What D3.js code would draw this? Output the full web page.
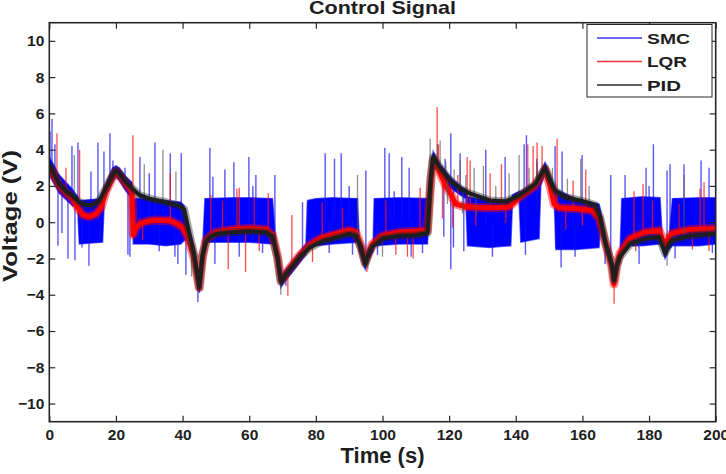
<!DOCTYPE html>
<html><head><meta charset="utf-8">
<script src="https://cdn.jsdelivr.net/npm/d3@7"></script>
<style>
body{margin:0;background:#fff}
svg{display:block}
text{font-family:"Liberation Sans",Arial,Helvetica,sans-serif;font-weight:bold;fill:#1e1e1e}
</style>
</head><body>
<svg id="chart" width="726" height="474"></svg>
<script>
// ---- tick labels ----
const xTicks = [0,20,40,60,80,100,120,140,160,180,200];
const yTicks = [-10,-8,-6,-4,-2,0,2,4,6,8,10];
const seriesNames = ["SMC","LQR","PID"];

// ---- PID (black) trend ----
const pidT = [0,1,3,5,7,9,11,13,15,17,19,20,21,23,25,27,30,35,39,40.5,42,43.5,45,46,47,48,50,55,60,65,67,68.5,69.5,70.5,72.3,75.3,78.2,81.3,86,90,92,93.5,94.8,96,97,100,105,110,113.5,114.5,115.2,117.3,120.3,123.3,126.3,132.3,137,141.3,145.8,148.8,150.3,151.8,154.8,159.3,163.8,165.3,167,168.8,169.5,170.3,171.3,174.3,178.8,183,184.8,186,187,192.3,200];
const pidV = [3.2,2.8,2.1,1.7,1.45,1.1,0.95,0.95,1.2,1.9,2.6,2.85,2.7,2.2,1.85,1.5,1.3,1.1,0.9,0.7,-0.6,-1.8,-3.6,-1.8,-1.1,-0.85,-0.65,-0.55,-0.5,-0.55,-0.8,-2.0,-3.3,-3.0,-2.6,-1.9,-1.4,-1.1,-0.85,-0.65,-0.75,-1.4,-2.3,-1.7,-1.35,-0.9,-0.75,-0.72,-0.6,2.5,3.6,3.0,2.3,1.85,1.58,1.2,1.15,1.5,2.1,3.0,2.3,1.75,1.38,1.2,0.95,0.3,-1.2,-2.3,-3.2,-2.4,-1.9,-1.2,-0.92,-0.83,-1.7,-1.2,-1.0,-0.75,-0.63];

// ---- LQR (red) trend ----
const lqrT = [0,1,3,5,7,8.5,10,12,14,15.5,17,19,20,21,23,24.8,25.2,26,27.5,30,33,36,38.5,40,41.5,43.5,45,46,47,48,50,55,60,65,67,68.5,69.5,70.5,72.3,75.3,78.2,81.3,86,90,92,93.5,94.8,96,97,100,105,110,113.5,114.5,115.2,117.3,119,120.3,122,125,130,135,138,141.3,145.8,148.8,150.3,151.5,153,158,163,165,167,168.8,169.5,170.3,171.3,174.3,178.8,183,184.8,186,187,192.3,200];
const lqrV = [3.0,2.7,2.0,1.6,1.3,0.8,0.4,0.3,0.45,0.8,1.7,2.5,2.8,2.6,2.1,1.7,-0.7,-0.3,-0.05,0.08,0.12,0.1,-0.1,-0.3,-0.8,-2.0,-3.6,-1.9,-1.0,-0.8,-0.55,-0.4,-0.35,-0.4,-0.7,-1.9,-3.2,-3.0,-2.5,-1.8,-1.25,-0.9,-0.65,-0.45,-0.55,-1.3,-2.2,-1.6,-1.2,-0.75,-0.55,-0.5,-0.45,2.3,3.4,2.7,2.0,1.6,1.0,0.85,0.8,0.8,0.85,1.4,2.0,2.9,2.0,1.0,0.8,0.75,0.65,0.2,-1.2,-2.4,-3.4,-2.4,-1.7,-0.9,-0.55,-0.45,-1.3,-0.8,-0.6,-0.4,-0.35];

// ---- SMC (blue) chattering envelope ----
const smcT  = [0,3,7,8.5,9,16,16.5,19,20,21,23,24.8,25.2,30,35,39.5,40.5,42,43.5,45,46,46.7,55,60,67,67.7,68.5,69.5,70.5,72.3,75.3,77,77.5,80,85,92.5,93,94.8,96,97.2,97.5,105,113.5,114.5,115.2,117.3,120.3,123.3,125,125.5,132,138.5,139,141,141.5,147,147.5,148.8,150.3,151.5,152,158,165,165.5,167,168.8,169.5,170.3,171.3,171.8,178,183.3,184,184.8,186,187,195,200];
const smcLo = [2.6,1.6,0.9,0.8,-1.2,-1.1,1.2,2.2,2.5,2.3,1.7,1.3,-1.2,-1.2,-1.3,-1.2,-1.0,-1.0,-2.2,-3.9,-2.0,-1.1,-1.1,-1.1,-1.2,-1.2,-2.3,-3.6,-3.3,-2.9,-2.2,-1.8,-1.3,-1.3,-1.2,-1.1,-1.6,-2.6,-2.0,-1.6,-1.3,-1.2,-1.2,2.2,3.2,2.6,1.9,1.5,1.3,-1.3,-1.4,-1.3,1.0,1.2,-1.1,-0.9,2.0,2.7,2.0,1.5,-1.5,-1.5,-1.4,0.1,-1.4,-2.6,-3.5,-2.7,-2.2,-1.3,-1.3,-1.2,-1.5,-2.0,-1.5,-1.3,-1.3,-1.2];
const smcHi = [3.6,2.6,1.8,1.4,1.2,1.3,1.9,3.0,3.1,3.0,2.5,2.2,1.3,1.3,1.2,1.1,0.9,-0.3,-1.4,-3.2,-1.5,1.3,1.35,1.35,1.3,-0.5,-1.7,-3.0,-2.7,-2.3,-1.6,-1.2,1.2,1.3,1.35,1.3,-0.9,-2.0,-1.4,-1.0,1.3,1.35,1.3,2.8,3.9,3.2,2.5,2.0,1.8,1.4,1.2,1.2,1.5,1.7,1.7,2.3,2.8,3.3,2.6,2.0,1.8,1.3,1.0,0.6,-0.9,-2.0,-2.9,-2.1,-1.6,1.3,1.4,1.35,-0.9,-1.4,-0.9,1.3,1.35,1.35];

// ---- spikes (time, extreme value) ----
const smcSpikeT = [0.2,0.8,1.7,2.6,3.8,5.6,6.8,7.7,8.6,9.8,11.9,12.5,14.6,15.2,16.4,18.2,19.1,22.7,23.6,24.2,27.2,30.0,31.7,33.0,36.3,37.7,38.6,39.6,41.0,44.6,48.2,49.1,49.7,52.7,55.4,57.0,59.9,61.1,62.0,64.0,67.7,71.0,76.0,77.5,82.8,84.0,85.6,87.6,90.0,91.0,95.0,98.5,100.7,102.0,103.5,105.8,108.0,108.6,112.0,118.4,118.8,120.5,120.5,121.3,123.3,124.4,131.0,133.0,136.8,142.5,143.2,142.9,146.3,149.4,151.8,152.1,153.6,153.9,157.8,159.9,166.8,168.5,172.8,177.0,179.1,180.0,181.3,185.4,186.3,187.8,190.5,195.6,198.0,199.0];
const smcSpikeV = [5.0,5.7,4.3,-1.3,-0.6,-2.0,4.2,-2.1,4.4,-1.4,-2.4,2.8,4.4,-1.0,3.9,4.9,3.4,3.0,-1.8,-1.9,3.6,2.7,4.4,-1.6,3.8,-1.9,-2.3,3.8,-2.9,-4.4,4.1,2.5,-2.3,2.9,3.3,-1.9,3.6,2.0,2.6,-1.7,2.6,-3.5,1.1,1.1,3.8,-1.7,3.5,3.8,2.0,-1.8,2.85,-1.8,4.1,3.8,1.7,3.6,3.0,-1.9,-1.7,-0.8,3.5,4.9,-2.6,-1.4,3.8,-1.6,4.0,-1.9,3.6,4.3,4.8,-1.8,3.5,2.9,4.2,-1.4,-2.5,3.9,-1.9,3.7,-2.3,2.6,2.6,-2.3,3.0,2.0,4.3,2.85,3.2,-2.0,3.2,3.4,3.0,-1.7];
const lqrSpikeT = [2.3,5.0,9.1,25.1,28.0,36.3,48.5,52.0,53.7,56.3,57.0,58.9,61.5,63.0,65.7,69.0,71.6,72.8,79.0,81.9,88.0,95.3,101.0,104.0,107.5,109.2,111.3,116.4,116.8,118.0,121.0,122.6,125.4,126.3,128.0,132.3,135.7,137.0,143.6,145.2,146.4,147.9,149.7,152.4,155.0,157.2,160.0,161.0,169.5,173.0,175.5,176.0,178.2,181.0,189.0,193.0,195.3,196.5,198.0];
const lqrSpikeV = [4.9,3.0,4.0,4.8,-1.0,2.7,1.5,1.2,-2.6,1.85,1.9,-2.75,1.4,-1.6,1.6,-3.2,-4.05,0.4,-2.2,1.1,0.8,-2.75,1.2,-1.8,-1.9,-2.0,1.9,6.35,4.3,0.2,-0.3,2.6,3.6,3.4,-0.2,2.7,3.2,0.0,4.3,4.2,4.4,4.2,2.9,4.6,-0.4,2.3,-0.2,2.9,-4.5,-1.4,1.7,-1.6,2.1,1.2,1.0,-1.5,1.85,2.2,-1.6];
const pidSpikeT = [7.5,28.5,34.1,38.0,42.7,69.5,92.5,95.6,100.0,114.3,116.5,117.3,119.0,119.5,121.5,123.3,124.0,125.0,127.5,128.0,130.3,134.0,138.0,141.0,144.0,146.5,151.0,155.5,159.5,162.0,185.4,190.5];
const pidSpikeV = [3.7,3.2,4.0,2.8,-3.0,-4.0,2.6,-2.6,-1.9,4.6,4.3,4.5,3.3,1.0,2.9,3.4,0.5,2.6,3.0,0.3,3.1,2.0,2.7,3.7,3.0,3.3,3.0,2.4,3.5,2.0,-2.4,2.6];

// ---- layout ----
const svg = d3.select("#chart");
const L = 49.3, R = 715.7, T = 22.7, B = 421.7;
const x = d3.scaleLinear().domain([0,200]).range([L,R]);
const y = d3.scaleLinear().domain([-11,11]).range([B,T]);

svg.append("defs").append("clipPath").attr("id","clip")
  .append("rect").attr("x",L).attr("y",T).attr("width",R-L).attr("height",B-T);

const plot = svg.append("g").attr("clip-path","url(#clip)");

// SMC envelope
const smcData = smcT.map((t,i)=>({t, lo:smcLo[i], hi:smcHi[i]}));
plot.append("path").datum(smcData)
  .attr("d", d3.area().x(d=>x(d.t)).y0(d=>y(d.lo)).y1(d=>y(d.hi)))
  .attr("fill","#0000ff").attr("stroke","#0000ff").attr("stroke-width",1.5).attr("stroke-opacity",0.6);

const smcMid = d3.scaleLinear().domain(smcT).range(smcT.map((t,i)=>(smcLo[i]+smcHi[i])/2));
const lqrBase = d3.scaleLinear().domain(lqrT).range(lqrV);
const pidBase = d3.scaleLinear().domain(pidT).range(pidV);

function spikes(ts, vs, base, color, op, w){
  plot.append("g").selectAll("line").data(ts.map((t,i)=>({t, v:vs[i]})))
    .join("line")
    .attr("x1",d=>x(d.t)).attr("x2",d=>x(d.t))
    .attr("y1",d=>y(base(d.t))).attr("y2",d=>y(d.v))
    .attr("stroke",color).attr("stroke-width",w).attr("stroke-opacity",op);
}
spikes(smcSpikeT, smcSpikeV, smcMid, "#1010f0", 0.7, 1.4);
spikes(lqrSpikeT, lqrSpikeV, lqrBase, "#ff1010", 0.75, 1.3);

const line = d3.line().x(d=>x(d.t)).y(d=>y(d.v));
const lqrPts = lqrT.map((t,i)=>({t, v:lqrV[i]}));
const pidPts = pidT.map((t,i)=>({t, v:pidV[i]}));
plot.append("path").datum(lqrPts)
  .attr("d", line).attr("fill","none").attr("stroke","#ff0000").attr("stroke-opacity",0.45)
  .attr("stroke-width",9).attr("stroke-linejoin","round");
plot.append("path").datum(lqrPts)
  .attr("d", line).attr("fill","none").attr("stroke","#ff0000")
  .attr("stroke-width",5).attr("stroke-linejoin","round");

spikes(pidSpikeT, pidSpikeV, pidBase, "#555", 0.65, 1.3);
plot.append("path").datum(pidPts)
  .attr("d", line).attr("fill","none").attr("stroke","#222").attr("stroke-opacity",0.4)
  .attr("stroke-width",8).attr("stroke-linejoin","round");
plot.append("path").datum(pidPts)
  .attr("d", line).attr("fill","none").attr("stroke","#1e1e1e")
  .attr("stroke-width",4).attr("stroke-linejoin","round");

// ---- axes ----
const axB = svg.append("g").attr("transform",`translate(0,${B})`)
  .call(d3.axisBottom(x).tickValues(xTicks).tickSize(-6).tickSizeOuter(0).tickPadding(7).tickFormat(d3.format("d")));
const axL = svg.append("g").attr("transform",`translate(${L},0)`)
  .call(d3.axisLeft(y).tickValues(yTicks).tickSize(-6).tickSizeOuter(0).tickPadding(5).tickFormat(d3.format("d")));
const axT = svg.append("g").attr("transform",`translate(0,${T})`)
  .call(d3.axisTop(x).tickValues(xTicks).tickSize(-6).tickSizeOuter(0).tickFormat(""));
const axR = svg.append("g").attr("transform",`translate(${R},0)`)
  .call(d3.axisRight(y).tickValues(yTicks).tickSize(-6).tickSizeOuter(0).tickFormat(""));
[axB,axL,axT,axR].forEach(g=>{
  g.select(".domain").remove();
  g.selectAll(".tick line").attr("stroke","#262626").attr("stroke-width",1.2);
  g.selectAll(".tick text").attr("font-size",15.5).attr("font-family",null).attr("fill","#1e1e1e");
});
svg.append("rect").attr("x",L).attr("y",T).attr("width",R-L).attr("height",B-T)
  .attr("fill","none").attr("stroke","#262626").attr("stroke-width",1.6);

// ---- titles ----
svg.append("text").attr("x",(L+R)/2).attr("y",14).attr("text-anchor","middle")
  .attr("font-size",19).attr("textLength",147).attr("lengthAdjust","spacingAndGlyphs")
  .text("Control Signal");
svg.append("text").attr("x",(L+R)/2).attr("y",463).attr("text-anchor","middle")
  .attr("font-size",22).text("Time (s)");
svg.append("text").attr("transform","translate(17,216) rotate(-90)").attr("text-anchor","middle")
  .attr("font-size",21).attr("textLength",132).attr("lengthAdjust","spacingAndGlyphs")
  .text("Voltage (V)");

// ---- legend ----
const legColors = ["#3a3aee","#f03030","#2a2a2a"];
const legLen = [43,40,34];
const lg = svg.append("g");
lg.append("rect").attr("x",587).attr("y",24.5).attr("width",125).attr("height",72.5)
  .attr("fill","#fff").attr("stroke","#262626").attr("stroke-width",1);
lg.selectAll("line.leg").data(seriesNames).join("line").attr("class","leg")
  .attr("x1",597).attr("x2",642)
  .attr("y1",(d,i)=>38+i*23.5).attr("y2",(d,i)=>38+i*23.5)
  .attr("stroke",(d,i)=>legColors[i]).attr("stroke-width",1.3);
lg.selectAll("text.leg").data(seriesNames).join("text").attr("class","leg")
  .attr("x",647).attr("y",(d,i)=>43.5+i*23.5).attr("font-size",15)
  .attr("textLength",(d,i)=>legLen[i]).attr("lengthAdjust","spacingAndGlyphs").text(d=>d);
</script>
</body></html>
